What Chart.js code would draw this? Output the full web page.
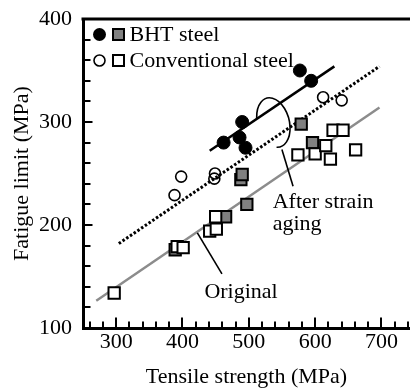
<!DOCTYPE html>
<html><head><meta charset="utf-8">
<script src="https://cdn.jsdelivr.net/npm/chart.js@4"></script>
<style>html,body{margin:0;padding:0;background:#fff}</style>
</head><body>
<canvas id="c" width="410" height="388"></canvas>
<script>
// ---- data ----
const bhtCircleX = [462, 486, 490, 495, 577, 594];
const bhtCircleY = [280, 285, 300, 275, 350, 340];
const convCircleX = [388, 398, 448, 449, 612, 640];
const convCircleY = [229, 247, 245, 250, 324, 321];
const bhtSquareX = [389, 465, 488, 490, 497, 579, 596];
const bhtSquareY = [176, 208, 244, 249, 220, 298, 280];
const convSquareX = [297, 392, 401, 441, 450, 451, 574, 600, 616, 623, 627, 642, 661];
const convSquareY = [134, 179, 178, 194, 208, 196, 268, 269, 277, 264, 292, 292, 273];
const bhtLineX = [441, 629],  bhtLineY = [272, 354];
const agedLineX = [304, 697], agedLineY = [182, 354];
const origLineX = [270, 697], origLineY = [126.5, 314];
const xTickLabels = [300, 400, 500, 600, 700];
const yTickLabels = [100, 200, 300, 400];
const legendLabels = ['BHT steel', 'Conventional steel'];

const FONT = 'Liberation Serif';
const pts = (xs, ys) => xs.map((x, i) => ({x: x, y: ys[i]}));

// annotation anchors in data units
const ann = {
  ellipse: {x: 537, y: 299.5, rx: 24, ry: 24.5, rot: -15, a0: 200, a1: 462},
  agedLeader: [[549.9, 273.2], [566.7, 237.6]],
  agedText: [{t: 'After strain', x: 536, y: 216.6}, {t: 'aging', x: 536, y: 195}],
  origLeader: [[422.4, 192.4], [459.5, 152.6]],
  origText: {t: 'Original', x: 433, y: 129.3}
};

const extras = {
  id: 'extras',
  beforeDatasetsDraw(chart) {
    const {ctx, chartArea: a, scales: {x, y}} = chart;
    ctx.save();
    ctx.strokeStyle = '#000';
    ctx.lineWidth = 3;
    ctx.beginPath(); ctx.moveTo(a.left - 1.5, a.top); ctx.lineTo(a.right, a.top); ctx.stroke();
    ctx.lineWidth = 2;
    for (let v = 260; v < x.max; v += 20) {
      const px = Math.round(x.getPixelForValue(v));
      const len = xTickLabels.includes(v) ? 9 : 5;
      ctx.beginPath(); ctx.moveTo(px, a.bottom); ctx.lineTo(px, a.bottom - 1.5 - len); ctx.stroke();
    }
    for (let v = 120; v < 400; v += 20) {
      const py = Math.round(y.getPixelForValue(v));
      const len = yTickLabels.includes(v) ? 8 : 6;
      ctx.beginPath(); ctx.moveTo(a.left, py); ctx.lineTo(a.left + 1.5 + len, py); ctx.stroke();
    }
    ctx.restore();
  },
  afterDatasetsDraw(chart) {
    const {ctx, chartArea: a, scales: {x, y}} = chart;
    const X = v => x.getPixelForValue(v), Y = v => y.getPixelForValue(v);
    ctx.save();
    ctx.strokeStyle = '#000';
    ctx.fillStyle = '#000';
    ctx.lineWidth = 1.6;
    const e = ann.ellipse;
    const rx = Math.abs(X(e.x + e.rx) - X(e.x)), ry = Math.abs(Y(e.y + e.ry) - Y(e.y));
    ctx.beginPath();
    ctx.ellipse(X(e.x), Y(e.y), rx, ry, e.rot * Math.PI / 180, e.a0 * Math.PI / 180, e.a1 * Math.PI / 180);
    ctx.stroke();
    [ann.agedLeader, ann.origLeader].forEach(l => {
      ctx.beginPath(); ctx.moveTo(X(l[0][0]), Y(l[0][1])); ctx.lineTo(X(l[1][0]), Y(l[1][1])); ctx.stroke();
    });
    ctx.font = '22px "' + FONT + '"';
    ctx.textBaseline = 'alphabetic';
    ctx.textAlign = 'left';
    ann.agedText.forEach(t => ctx.fillText(t.t, X(t.x), Y(t.y)));
    ctx.fillText(ann.origText.t, X(ann.origText.x), Y(ann.origText.y));
    // legend
    const rows = [a.top + 15.5, a.top + 41.5];
    const cx = a.left + 16.5, sx = a.left + 35.5, tx = a.left + 46.5;
    ctx.beginPath(); ctx.arc(cx, rows[0], 6.5, 0, Math.PI * 2); ctx.fill();
    ctx.fillStyle = '#808080'; ctx.lineWidth = 2;
    ctx.fillRect(sx - 5.5, rows[0] - 5.5, 11, 11); ctx.strokeRect(sx - 5.5, rows[0] - 5.5, 11, 11);
    ctx.lineWidth = 1.6;
    ctx.beginPath(); ctx.arc(cx, rows[1], 5.5, 0, Math.PI * 2); ctx.stroke();
    ctx.lineWidth = 2;
    ctx.fillStyle = '#fff';
    ctx.fillRect(sx - 5.5, rows[1] - 5.5, 11, 11); ctx.strokeRect(sx - 5.5, rows[1] - 5.5, 11, 11);
    ctx.fillStyle = '#000';
    ctx.textBaseline = 'middle';
    ctx.fillText(legendLabels[0], tx, rows[0] + 1);
    ctx.fillText(legendLabels[1], tx, rows[1] + 1);
    ctx.restore();
  }
};

const lineDs = (xs, ys, color, dash, w) => ({
  type: 'line', data: pts(xs, ys), borderColor: color, borderWidth: w,
  borderDash: dash, pointRadius: 0, showLine: true, fill: false, borderCapStyle: 'butt'
});

new Chart(document.getElementById('c'), {
  type: 'scatter',
  data: {
    datasets: [
      {data: pts(bhtCircleX, bhtCircleY), pointStyle: 'circle', pointRadius: 6.5,
       backgroundColor: '#000', borderColor: '#000', borderWidth: 1},
      {data: pts(convCircleX, convCircleY), pointStyle: 'circle', pointRadius: 5.5,
       backgroundColor: 'rgba(0,0,0,0)', borderColor: '#000', borderWidth: 1.6},
      {data: pts(convSquareX, convSquareY), pointStyle: 'rect', pointRadius: 8,
       backgroundColor: '#fff', borderColor: '#000', borderWidth: 2},
      {data: pts(bhtSquareX, bhtSquareY), pointStyle: 'rect', pointRadius: 8,
       backgroundColor: '#808080', borderColor: '#000', borderWidth: 2},
      lineDs(bhtLineX, bhtLineY, '#000', [], 2.5),
      lineDs(agedLineX, agedLineY, '#000', [2.5, 2], 3),
      lineDs(origLineX, origLineY, '#8c8c8c', [], 2.5)
    ]
  },
  options: {
    responsive: false, animation: false, devicePixelRatio: 1,
    layout: {autoPadding: false, padding: {top: 19, right: 0, left: 0, bottom: 0}},
    plugins: {legend: {display: false}, tooltip: {enabled: false}},
    scales: {
      x: {
        type: 'linear', min: 250, max: 743,
        afterBuildTicks: s => { s.ticks = xTickLabels.map(v => ({value: v})); },
        afterFit: s => { s.height = 60; s.paddingLeft = 0; s.paddingRight = 0; },
        grid: {display: false, drawTicks: false},
        border: {display: true, width: 3, color: '#000'},
        ticks: {autoSkip: false, maxRotation: 0, padding: 1, color: '#000', font: {family: FONT, size: 22}},
        title: {display: true, text: 'Tensile strength (MPa)', color: '#000',
                font: {family: FONT, size: 22}, padding: {top: 0, bottom: -2}}
      },
      y: {
        type: 'linear', min: 100, max: 400,
        afterBuildTicks: s => { s.ticks = yTickLabels.map(v => ({value: v})); },
        afterFit: s => { s.width = 83; s.paddingTop = 0; s.paddingBottom = 0; },
        grid: {display: false, drawTicks: false},
        border: {display: true, width: 3, color: '#000'},
        ticks: {autoSkip: false, padding: 11, color: '#000', font: {family: FONT, size: 22}},
        title: {display: true, text: 'Fatigue limit (MPa)', color: '#000',
                font: {family: FONT, size: 22}, padding: {top: 9, bottom: 0}}
      }
    }
  },
  plugins: [extras]
});
</script>
</body></html>
